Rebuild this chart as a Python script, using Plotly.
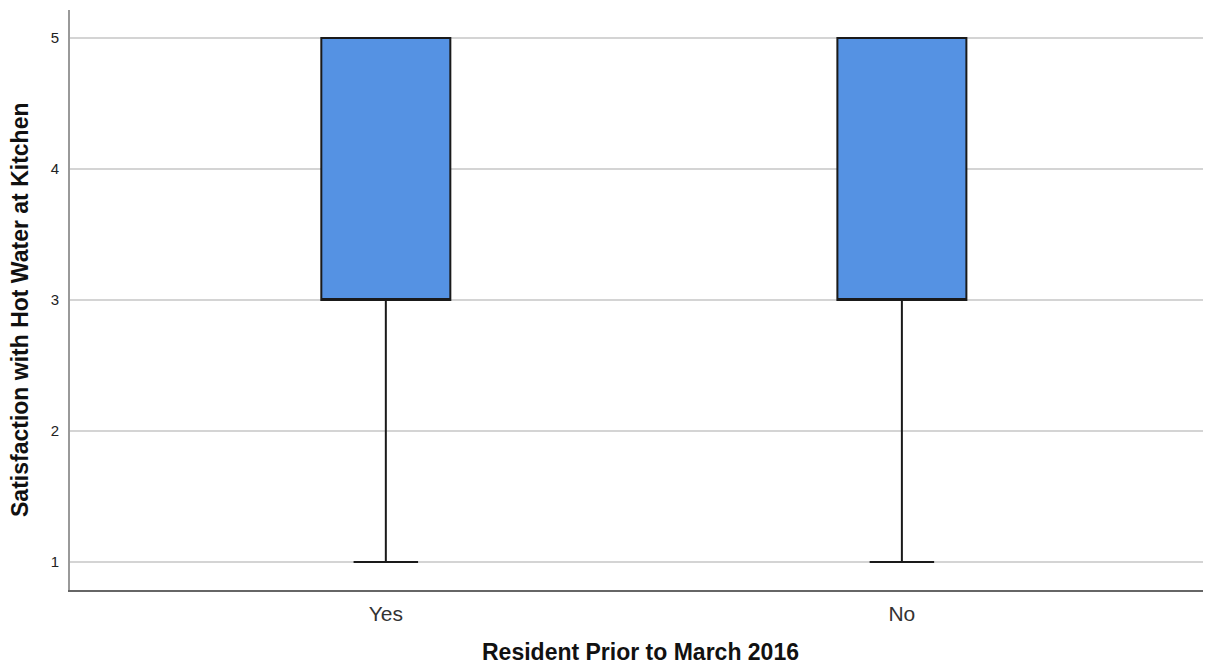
import plotly.graph_objects as go

categories = ["Yes", "No"]
lower = [1, 1]
q1 = [3, 3]
median = [3, 3]
q3 = [5, 5]
upper = [5, 5]

fig = go.Figure()
fig.add_trace(go.Box(
    x=categories,
    lowerfence=lower, q1=q1, median=median, q3=q3, upperfence=upper,
    fillcolor="#5592e3",
    line=dict(color="#1a1a1a", width=2),
    width=0.25,
    whiskerwidth=0.5,
    boxpoints=False,
    showlegend=False,
    hoverinfo="skip",
))

fig.update_layout(
    width=1203, height=658,
    margin=dict(l=62, r=0, t=2, b=76),
    plot_bgcolor="white", paper_bgcolor="white",
    font=dict(family="Liberation Sans, Arial", color="#222"),
    xaxis=dict(
        range=[-0.612, 1.599],
        showline=True, linecolor="#666", linewidth=2,
        showgrid=False, ticks="",
        ticklabelstandoff=4,
        tickfont=dict(size=21, color="#333"),
    ),
    yaxis=dict(
        range=[0.786, 5.214],
        tickvals=[1, 2, 3, 4, 5],
        showline=True, linecolor="#999", linewidth=2,
        showgrid=True, gridcolor="#d4d4d4", gridwidth=2,
        zeroline=False, ticks="",
        ticklabelstandoff=6,
        tickfont=dict(size=15, color="#222"),
    ),
    annotations=[
        dict(
            text="<b>Satisfaction with Hot Water at Kitchen</b>",
            font=dict(size=23, color="#111"),
            textangle=-90,
            xref="paper", yref="paper",
            x=0, y=0.4828,
            xanchor="center", yanchor="middle",
            xshift=-50,
            showarrow=False,
        ),
        dict(
            text="<b>Resident Prior to March 2016</b>",
            font=dict(size=23, color="#111"),
            xref="paper", yref="paper",
            x=0.5, y=0,
            xanchor="center", yanchor="middle",
            yshift=-62,
            showarrow=False,
        ),
    ],
)

fig.write_html("out.html")
